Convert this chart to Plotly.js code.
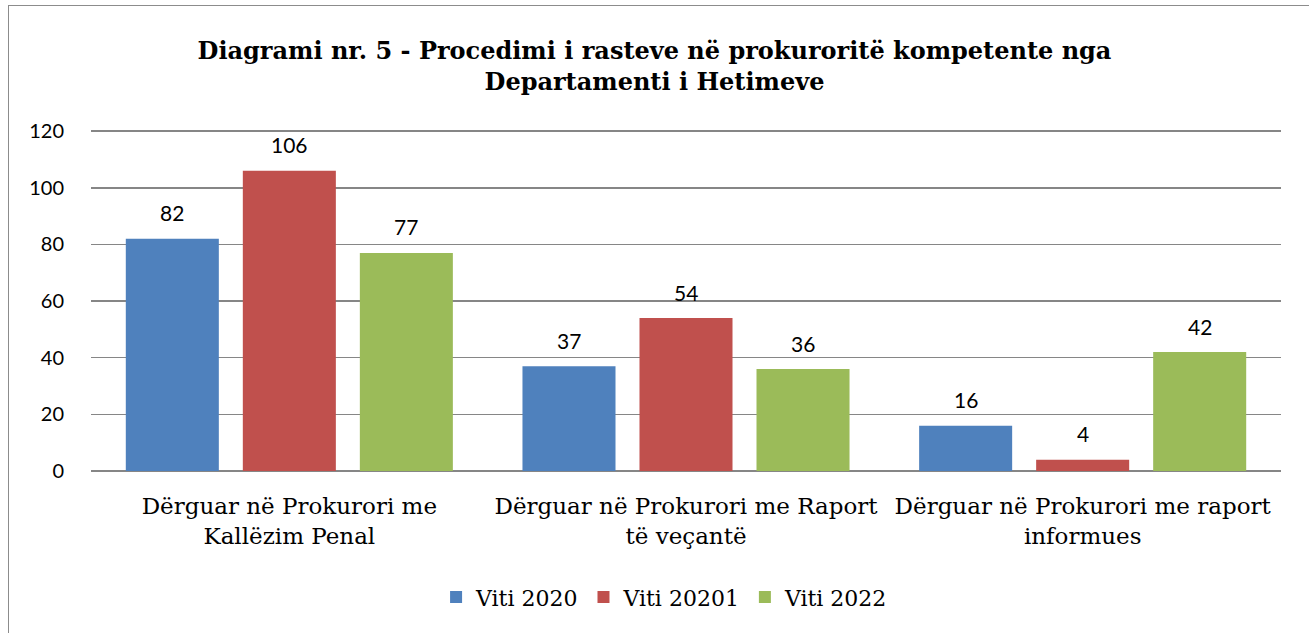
<!DOCTYPE html>
<html><head><meta charset="utf-8">
<script src="https://cdn.plot.ly/plotly-3.0.1.min.js"></script>
<style>
html,body{margin:0;padding:0;background:#fff;overflow:hidden}
#chart{width:1309px;height:633px;position:absolute;left:0;top:0}
#frame{position:absolute;left:8px;top:5px;width:1330px;height:660px;border:1.5px solid #8c8c8c;pointer-events:none}
</style></head><body>
<div id="chart"></div><div id="frame"></div>
<script>
const categories = ["Dërguar në Prokurori me<br>Kallëzim Penal", "Dërguar në Prokurori me Raport<br>të veçantë", "Dërguar në Prokurori me raport<br>informues"];
const seriesNames = ["Viti 2020", "Viti 20201", "Viti 2022"];
const viti2020 = [82, 37, 16];
const viti20201 = [106, 54, 4];
const viti2022 = [77, 36, 42];
const colors = ["#4F81BD", "#C0504D", "#9BBB59"];
const yTicks = [0, 20, 40, 60, 80, 100, 120];

const serif = "DejaVu Serif, serif";
const sans = "Lato, Open Sans, sans-serif";
const values = [viti2020, viti20201, viti2022];

const W = 1309, H = 633, M = {l: 91, r: 28, t: 130, b: 162};
const bargap = 0.115;
const slot = (W - M.l - M.r) / categories.length * (1 - bargap) / values.length;

const traces = values.map((v, i) => ({
  type: "bar", x: categories, y: v, name: seriesNames[i],
  marker: {color: colors[i]}, hoverinfo: "none"
}));
const annotations = [];
values.forEach((v, i) => {
  v.forEach((val, j) => {
    annotations.push({x: categories[j], y: val, xref: "x", yref: "y", text: String(val),
      showarrow: false, xshift: (i - (values.length - 1) / 2) * slot, yshift: 26, yanchor: "middle",
      font: {family: sans, size: 21, color: "#000"}});
  });
});
Plotly.newPlot("chart", traces, {
  width: W, height: H, margin: M,
  paper_bgcolor: "#fff", plot_bgcolor: "#fff",
  barmode: "group", bargap: bargap, bargroupgap: 0.205,
  title: {text: "<b>Diagrami nr. 5 - Procedimi i rasteve në prokuroritë kompetente nga<br>Departamenti i Hetimeve</b>",
    font: {family: serif, size: 24, color: "#000"}, x: 0.5, xanchor: "center", y: 0.907, yanchor: "middle"},
  xaxis: {tickfont: {family: serif, size: 23, color: "#000"}, showline: false, ticks: "", ticklabelstandoff: 19},
  yaxis: {range: [0, 120.4], tickvals: yTicks, showgrid: true, gridcolor: "#868686", gridwidth: 1.5,
    zeroline: true, zerolinecolor: "#868686", zerolinewidth: 2,
    tickfont: {family: sans, size: 20, color: "#000"}, ticks: "", ticklabelstandoff: 26, fixedrange: true},
  annotations: annotations,
  showlegend: true,
  legend: {orientation: "h", x: 0.482, xanchor: "center", y: -0.37, yanchor: "middle",
    font: {family: serif, size: 22, color: "#000"}, itemwidth: 30, tracegroupgap: 0},
  font: {family: serif}
}, {displayModeBar: false, staticPlot: true});
</script></body></html>
